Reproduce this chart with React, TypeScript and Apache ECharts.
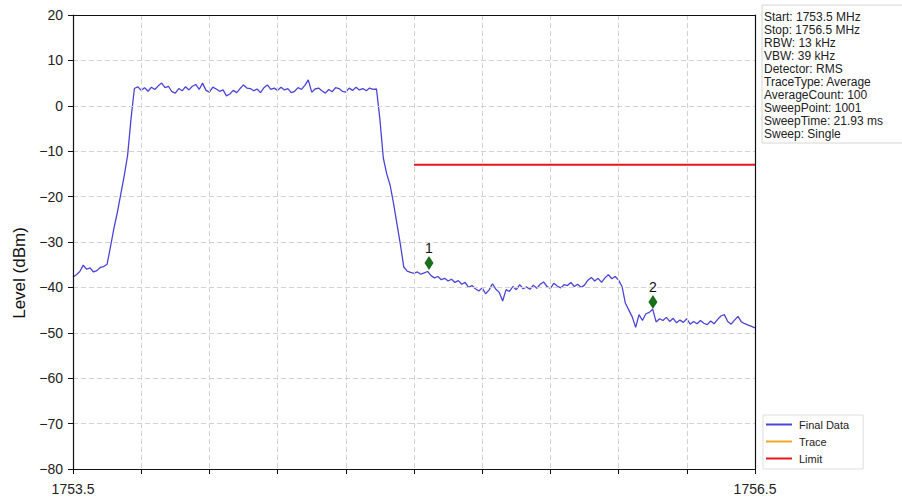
import React, { useEffect, useRef } from "react";
import * as echarts from "echarts";

const FONT = "Liberation Sans, Arial, sans-serif";

// Frequency axis (MHz)
const freqStart = 1753.5;
const freqStop = 1756.5;
const freqStep = 0.015;

// Measured trace level (dBm), one value every freqStep starting at freqStart
const levels = [
  -37.7, -37.2, -36.5, -35.1, -36.0, -35.7, -36.6, -36.3, -35.6, -35.4,
  -34.9, -31.0, -27.0, -23.5, -19.5, -15.5, -11.0, -3.0, 3.8, 4.2,
  3.4, 4.0, 3.2, 4.1, 3.6, 4.4, 5.0, 4.0, 4.3, 3.1,
  2.8, 3.8, 3.3, 4.2, 3.5, 4.3, 4.7, 3.6, 5.0, 3.4,
  3.0, 4.1, 3.7, 3.2, 3.5, 2.2, 2.6, 3.4, 2.9, 3.8,
  4.6, 3.9, 3.8, 3.3, 3.7, 2.9, 4.0, 4.6, 3.6, 3.9,
  3.4, 4.1, 3.5, 3.8, 2.9, 3.2, 4.0, 3.6, 4.5, 5.7,
  3.0, 3.7, 3.9, 3.3, 2.8, 3.6, 3.1, 4.0, 3.8, 3.2,
  3.0, 3.9, 3.4, 4.1, 3.5, 3.8, 3.3, 3.9, 3.6, 3.7,
  -3.0, -11.5, -15.0, -17.5, -21.5, -26.0, -30.5, -35.5, -36.4, -36.7,
  -36.9, -36.6, -37.1, -36.8, -36.5, -37.4, -37.9, -37.6, -38.3, -38.0,
  -38.6, -38.2, -38.9, -38.5, -39.3, -38.9, -40.0, -39.6, -40.3, -40.8,
  -40.1, -41.4, -40.6, -39.2, -40.4, -41.1, -43.0, -40.5, -40.9, -39.8,
  -40.5, -39.4, -40.3, -39.9, -40.4, -39.5, -40.2, -39.3, -38.8, -39.8,
  -40.2, -39.1, -39.7, -40.1, -39.4, -39.6, -38.9, -39.8, -39.3, -40.0,
  -39.5, -38.4, -37.8, -38.6, -38.0, -38.9, -37.9, -37.2, -38.1, -37.6,
  -38.4, -39.8, -43.5, -45.0, -46.5, -48.8, -46.0, -47.3, -45.8, -45.5,
  -44.8, -47.6, -46.9, -47.3, -46.6, -47.5, -46.8, -47.8, -47.2, -47.7,
  -46.9, -48.1, -47.5, -48.0, -47.3, -47.9, -48.2, -47.4, -48.0, -47.1,
  -46.3, -46.0, -47.5, -48.1, -47.2, -46.4, -47.6, -48.0, -48.3, -48.6,
  -48.9,
];

// Limit line
const limitFreqs = [1755.0, 1756.5];
const limitLevel = -13;

// Markers
const markerNames = ["1", "2"];
const markerFreqs = [1755.066, 1756.051];
const markerLevels = [-34.6, -43.2];

// Axis
const yMin = -80;
const yMax = 20;
const yInterval = 10;
const xInterval = 0.3;

// Settings panel text
const infoLines = [
  "Start: 1753.5 MHz",
  "Stop: 1756.5 MHz",
  "RBW: 13 kHz",
  "VBW: 39 kHz",
  "Detector: RMS",
  "TraceType: Average",
  "AverageCount: 100",
  "SweepPoint: 1001",
  "SweepTime: 21.93 ms",
  "Sweep: Single",
];

const legendNames = ["Final Data", "Trace", "Limit"];

export default function App() {
  const ref = useRef<HTMLDivElement>(null);

  useEffect(() => {
    if (!ref.current) return;
    const chart = echarts.init(ref.current, undefined, { renderer: "svg" });

    const traceData = levels.map((v, i) => [
      +(freqStart + i * freqStep).toFixed(4),
      v,
    ]);
    const limitData = limitFreqs.map((f) => [f, limitLevel]);
    const markerData = markerFreqs.map((f, i) => ({
      value: [f, markerLevels[i]],
      name: markerNames[i],
    }));

    const isEnd = (v: number) =>
      Math.abs(v - freqStart) < 1e-6 || Math.abs(v - freqStop) < 1e-6;

    const frameAxis = {
      type: "value",
      axisLine: { show: true, onZero: false, lineStyle: { color: "#111", width: 1.2 } },
      axisTick: { show: false },
      axisLabel: { show: false },
      splitLine: { show: false },
      z: 5,
    };

    chart.setOption({
      animation: false,
      backgroundColor: "#ffffff",
      grid: {
        left: 73,
        right: 147,
        top: 15,
        bottom: 31,
      },
      xAxis: [
        {
          type: "value",
          min: freqStart,
          max: freqStop,
          interval: xInterval,
          axisLine: { show: true, onZero: false, lineStyle: { color: "#111", width: 1.2 } },
          axisTick: { show: true, inside: false, length: 5, lineStyle: { color: "#111" } },
          axisLabel: {
            margin: 13,
            fontSize: 14,
            color: "#222",
            fontFamily: FONT,
            showMinLabel: true,
            showMaxLabel: true,
            formatter: (v: number) => (isEnd(v) ? v.toFixed(1) : ""),
          },
          splitLine: { show: true, lineStyle: { color: "#d2d2d2", type: [5, 3], width: 1 } },
          z: 5,
        },
        { ...frameAxis, position: "top", min: freqStart, max: freqStop },
      ],
      yAxis: [
        {
          type: "value",
          min: yMin,
          max: yMax,
          interval: yInterval,
          axisLine: { show: true, onZero: false, lineStyle: { color: "#111", width: 1.2 } },
          axisTick: { show: true, inside: false, length: 5, lineStyle: { color: "#111" } },
          axisLabel: {
            margin: 10,
            fontSize: 14,
            color: "#222",
            fontFamily: FONT,
            formatter: (v: number) => (v < 0 ? "\u2212" + Math.abs(v) : String(v)),
          },
          splitLine: { show: true, lineStyle: { color: "#d2d2d2", type: [5, 3], width: 1 } },
          z: 5,
        },
        { ...frameAxis, position: "right", min: yMin, max: yMax },
      ],
      legend: {
        data: legendNames,
        orient: "vertical",
        left: 763,
        top: 415,
        icon: "rect",
        itemWidth: 26,
        itemHeight: 2,
        itemGap: 6,
        padding: [4, 14, 5, 3],
        borderColor: "#dddddd",
        borderWidth: 1,
        backgroundColor: "#ffffff",
        textStyle: { fontSize: 11, color: "#222", fontFamily: FONT, padding: [0, 0, 0, 2] },
      },
      graphic: [
        {
          type: "text",
          x: 19,
          y: 273,
          rotation: Math.PI / 2,
          style: {
            text: "Level (dBm)",
            font: `17px ${FONT}`,
            fill: "#111",
            align: "center",
            verticalAlign: "middle",
          },
        },
        {
          type: "rect",
          shape: { x: 762, y: 5, width: 150, height: 138 },
          style: { fill: "#ffffff", stroke: "#d6d6d6", lineWidth: 1 },
          z: 10,
        },
        {
          type: "text",
          x: 764,
          y: 10,
          z: 11,
          style: {
            text: infoLines.join("\n"),
            font: `12px ${FONT}`,
            lineHeight: 13,
            fill: "#222",
            align: "left",
            verticalAlign: "top",
          },
        },
      ],
      series: [
        {
          name: "Final Data",
          type: "line",
          data: traceData,
          symbol: "none",
          showSymbol: false,
          color: "#4b44d9",
          lineStyle: { color: "#4b44d9", width: 1.3 },
          z: 3,
        },
        {
          name: "Trace",
          type: "line",
          data: [],
          symbol: "none",
          color: "#f5a623",
          lineStyle: { color: "#f5a623", width: 1.5 },
        },
        {
          name: "Limit",
          type: "line",
          data: limitData,
          symbol: "none",
          color: "#e8141e",
          lineStyle: { color: "#e8141e", width: 2 },
          z: 2,
        },
        {
          name: "Markers",
          type: "scatter",
          data: markerData,
          symbol: "diamond",
          symbolSize: [9, 14],
          itemStyle: { color: "#1b6f1b", opacity: 1 },
          label: {
            show: true,
            position: "top",
            distance: 1,
            formatter: (p: any) => p.name,
            fontSize: 14,
            color: "#111111",
            fontFamily: FONT,
          },
          z: 5,
        },
      ],
    });

    return () => chart.dispose();
  }, []);

  return (
    <div
      ref={ref}
      style={{ position: "fixed", left: 0, top: 0, width: 902, height: 500 }}
    />
  );
}
